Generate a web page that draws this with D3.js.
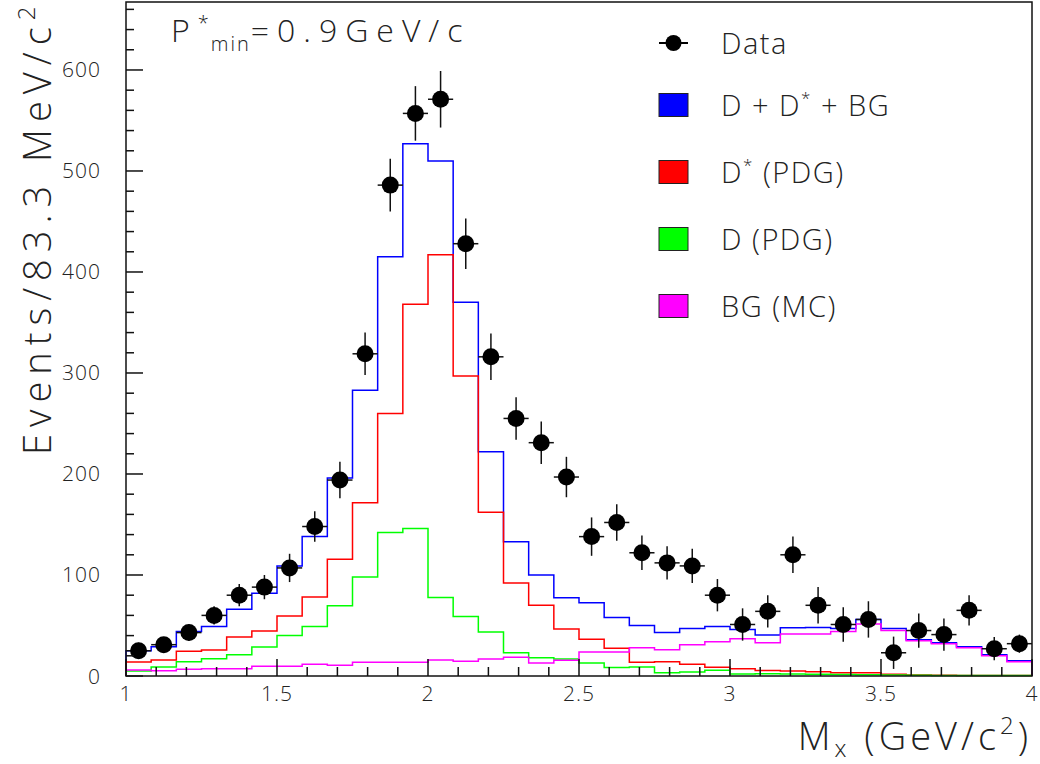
<!DOCTYPE html>
<html>
<head>
<meta charset="utf-8">
<script src="https://cdn.jsdelivr.net/npm/d3@7"></script>
<style>
  html, body { margin: 0; padding: 0; background: #fff; }
  svg text { font-family: "Open Sans", "Lato", "Roboto", "DejaVu Sans", sans-serif; font-weight: 300; fill: #222; }
</style>
</head>
<body>
<svg id="chart" width="1040" height="764"></svg>
<script>
// ---- data ----
const massMin = 1.0;          // GeV/c^2
const massMax = 4.0;
const nBins = 36;             // 83.3 MeV bins
const dataCounts = [25,31,43,60,80,88,107,148,194,319,486,557,571,428,316,255,231,197,138,152,122,112,109,80,51,64,120,70,51,56,23,45,41,65,27,32];
const dataErrors = [8,7,8,9,11,12,14,15,18,21,26,27,28,25,23,21,21,20,19,18,17,16.5,17,16,16,16,18,18,17,18,16,17,16,15,11.5,9];
const sumCounts  = [25,29,44,49,66,82,109,138,196,283,415,527,510,370,222,133,100,77.5,72.6,58,50,43,47,49,46,40.6,47.8,48,47,56,47,36,33,29,21,15];
const dstarCounts = [13.8,15.8,24.4,25.7,38.6,44.6,59.4,78.2,115.5,171.6,260,368,417,297,162,92,70,46.5,36.3,27.4,13.5,14,11.6,8.6,7.3,5.5,5,4.3,3.3,3.3,1.7,1,0.8,0.6,0.5,0.4];
const dCounts    = [5,9,14,17,21,28.7,40.2,49,69.5,98,142,146,77.6,58.8,43.5,23,18,16.8,12.9,8.3,9,3.3,4,5.6,2,2.3,2,1.7,1.5,1.2,1,0.8,0.6,0.5,0.5,0.5];
const bgCounts   = [6,5.3,6.6,7.3,7.3,9.6,9.6,11.6,10.6,13.6,13.6,13.6,15.8,14.5,16.8,18.5,12.9,15.5,23.8,23.8,28,26,31,34,37,33,41.6,41.6,44,51.5,45,35,32,28,20,14];
const xTickLabels = ["1","1.5","2","2.5","3","3.5","4"];
const yTickLabels = ["0","100","200","300","400","500","600"];
const legendLabels = ["Data", "D + D* + BG", "D* (PDG)", "D (PDG)", "BG (MC)"];
const seriesColors = ["#0000ff", "#ff0000", "#00ff00", "#ff00ff"];

// ---- layout ----
const svg = d3.select("#chart");
const X0 = 126, X1 = 1032, Y0 = 676, Y1 = 2;
const x = d3.scaleLinear().domain([massMin, massMax]).range([X0, X1]);
const y = d3.scaleLinear().domain([0, 667.3]).range([Y0, Y1]);
const bw = (massMax - massMin) / nBins;
const lo = i => massMin + i * bw;

// histogram outline path
function histPath(vals) {
  let p = `M${x(lo(0))},${y(0)}`;
  vals.forEach((v, i) => {
    p += `L${x(lo(i))},${y(v)}L${x(lo(i + 1))},${y(v)}`;
  });
  p += `L${x(lo(vals.length))},${y(0)}`;
  return p;
}

const series = [sumCounts, dstarCounts, dCounts, bgCounts];
series.forEach((vals, k) => {
  svg.append("path").attr("d", histPath(vals))
    .attr("fill", "none").attr("stroke", seriesColors[k]).attr("stroke-width", 1.5);
});

// data points
const pts = svg.append("g");
dataCounts.forEach((v, i) => {
  const cx = x(lo(i) + bw / 2);
  pts.append("line").attr("x1", x(lo(i))).attr("x2", x(lo(i + 1)))
    .attr("y1", y(v)).attr("y2", y(v)).attr("stroke", "#111").attr("stroke-width", 1.5);
  pts.append("line").attr("x1", cx).attr("x2", cx)
    .attr("y1", y(v - dataErrors[i])).attr("y2", y(v + dataErrors[i]))
    .attr("stroke", "#111").attr("stroke-width", 1.5);
  pts.append("circle").attr("cx", cx).attr("cy", y(v)).attr("r", 8.5).attr("fill", "#000");
});

// frame
svg.append("rect").attr("x", X0).attr("y", Y1).attr("width", X1 - X0).attr("height", Y0 - Y1)
  .attr("fill", "none").attr("stroke", "#111").attr("stroke-width", 1.5);

// x axis ticks
const xMinor = d3.range(0, 31).map(i => massMin + i * 0.1);
xMinor.forEach((t, i) => {
  const major = i % 5 === 0;
  svg.append("line").attr("x1", x(t)).attr("x2", x(t))
    .attr("y1", Y0).attr("y2", Y0 - (major ? 17 : 9))
    .attr("stroke", "#111").attr("stroke-width", 1.5);
});
xTickLabels.forEach(s => {
  svg.append("text").attr("x", x(+s)).attr("y", 701).attr("text-anchor", "middle")
    .attr("font-size", 21).attr("letter-spacing", 1).text(s);
});

// y axis ticks
const yMinor = d3.range(0, 34).map(i => i * 20);
yMinor.forEach((t, i) => {
  const major = i % 5 === 0;
  svg.append("line").attr("x1", X0).attr("x2", X0 + (major ? 17 : 8))
    .attr("y1", y(t)).attr("y2", y(t))
    .attr("stroke", "#111").attr("stroke-width", 1.5);
});
yTickLabels.forEach(s => {
  svg.append("text").attr("x", 101).attr("y", y(+s) + 7.5).attr("text-anchor", "end")
    .attr("font-size", 21).attr("letter-spacing", 1).text(s);
});

// axis titles
const xt = svg.append("text").attr("x", 1032).attr("y", 750).attr("text-anchor", "end")
  .attr("font-size", 38).attr("letter-spacing", 4);
xt.append("tspan").text("M");
xt.append("tspan").attr("font-size", 24).attr("dy", 7).text("x");
xt.append("tspan").attr("dy", -7).text(" (GeV/c");
xt.append("tspan").attr("font-size", 24).attr("dy", -16).text("2");
xt.append("tspan").attr("dy", 16).text(")");

const yt = svg.append("text").attr("transform", "translate(51,455) rotate(-90)")
  .attr("text-anchor", "start").attr("font-size", 38).attr("letter-spacing", 7);
yt.append("tspan").text("Events/83.3 MeV/c");
yt.append("tspan").attr("font-size", 24).attr("dy", -16).text("2");

// title
const tt = svg.append("text").attr("x", 171).attr("y", 42).attr("font-size", 32).attr("letter-spacing", 8);
tt.append("tspan").text("P");
tt.append("tspan").attr("font-size", 20).attr("dy", -12).attr("letter-spacing", 2).text("*");
tt.append("tspan").attr("font-size", 20).attr("dy", 21).attr("letter-spacing", 2).text("min");
tt.append("tspan").attr("dy", -9).text("=0.9GeV/c");

// legend
const lgX = 659, lgW = 29, lgH = 23;
const lgY = [43, 105, 172, 239, 306];
svg.append("line").attr("x1", lgX).attr("x2", lgX + lgW).attr("y1", lgY[0]).attr("y2", lgY[0])
  .attr("stroke", "#000").attr("stroke-width", 2);
svg.append("circle").attr("cx", lgX + lgW / 2).attr("cy", lgY[0]).attr("r", 8).attr("fill", "#000");
seriesColors.forEach((c, k) => {
  svg.append("rect").attr("x", lgX).attr("y", lgY[k + 1] - lgH / 2).attr("width", lgW).attr("height", lgH)
    .attr("fill", c).attr("stroke", "#222").attr("stroke-width", 1);
});
legendLabels.forEach((s, k) => {
  const t = svg.append("text").attr("x", 721).attr("y", lgY[k] + 10.5)
    .attr("font-size", 29).attr("letter-spacing", 1.5);
  const parts = s.split("*");
  let pendingDy = 0;
  parts.forEach((p, j) => {
    if (p.length) {
      const ts = t.append("tspan").text(p);
      if (pendingDy) { ts.attr("dy", pendingDy); pendingDy = 0; }
    }
    if (j < parts.length - 1) {
      t.append("tspan").attr("font-size", 17).attr("dy", -12).text("*");
      pendingDy = 12;
    }
  });
});
</script>
</body>
</html>
